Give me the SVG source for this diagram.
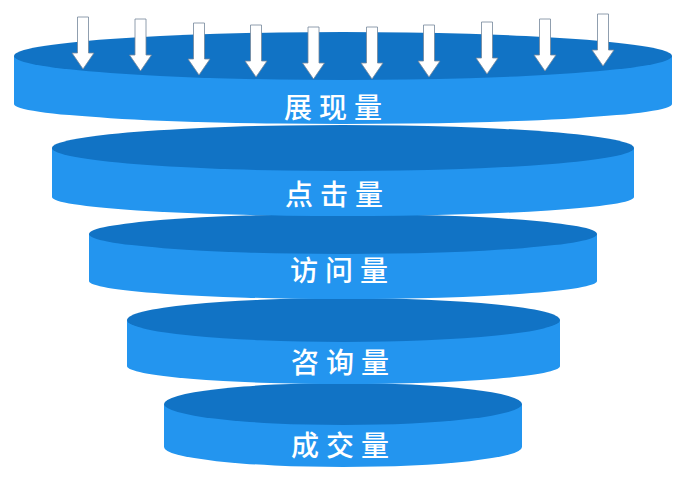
<svg xmlns="http://www.w3.org/2000/svg" width="687" height="500" viewBox="0 0 687 500">
<style>
.side{fill:#2395ef}
.top{fill:#1173c5}
.lbl{font-family:"Noto Sans CJK SC","Noto Sans",sans-serif;font-size:28px;font-weight:500;fill:#ffffff;letter-spacing:7px}
.arr{fill:#ffffff;stroke:#73869a;stroke-width:0.8}
</style>
<defs>
<path id="arrow" class="arr" d="M-5.5,0 H5.5 V36 H11 L0,52 L-11,36 H-5.5 Z"/>
</defs>
<rect width="687" height="500" fill="#ffffff"/>
<g id="disk5">
<path class="side" d="M164,404 V447 A179,20 0 0 0 522,447 V404 Z"/>
<ellipse class="top" cx="343" cy="404" rx="179" ry="21"/>
<text class="lbl" x="291" y="456">成交量</text>
</g>
<g id="disk4">
<path class="side" d="M127,320 V366 A216.5,18 0 0 0 560,366 V320 Z"/>
<ellipse class="top" cx="343.5" cy="320" rx="216.5" ry="22"/>
<text class="lbl" x="291" y="373">咨询量</text>
</g>
<g id="disk3">
<path class="side" d="M89,234 V281 A254,18 0 0 0 597,281 V234 Z"/>
<ellipse class="top" cx="343" cy="234" rx="254" ry="20"/>
<text class="lbl" x="290" y="281">访问量</text>
</g>
<g id="disk2">
<path class="side" d="M52,148 V197 A291,19 0 0 0 634,197 V148 Z"/>
<ellipse class="top" cx="343" cy="148" rx="291" ry="23"/>
<text class="lbl" x="285" y="205">点击量</text>
</g>
<g id="disk1">
<path class="side" d="M14,56 V104 A329,20 0 0 0 672,104 V56 Z"/>
<ellipse class="top" cx="343" cy="56" rx="329" ry="24"/>
<text class="lbl" x="284" y="118">展现量</text>
</g>
<g id="arrows">
<use href="#arrow" x="83" y="17"/>
<use href="#arrow" x="140.5" y="19"/>
<use href="#arrow" x="199" y="23"/>
<use href="#arrow" x="256" y="25"/>
<use href="#arrow" x="313.5" y="27"/>
<use href="#arrow" x="372" y="27"/>
<use href="#arrow" x="429" y="25"/>
<use href="#arrow" x="487" y="22"/>
<use href="#arrow" x="545" y="19"/>
<use href="#arrow" x="603" y="14"/>
</g>
</svg>
